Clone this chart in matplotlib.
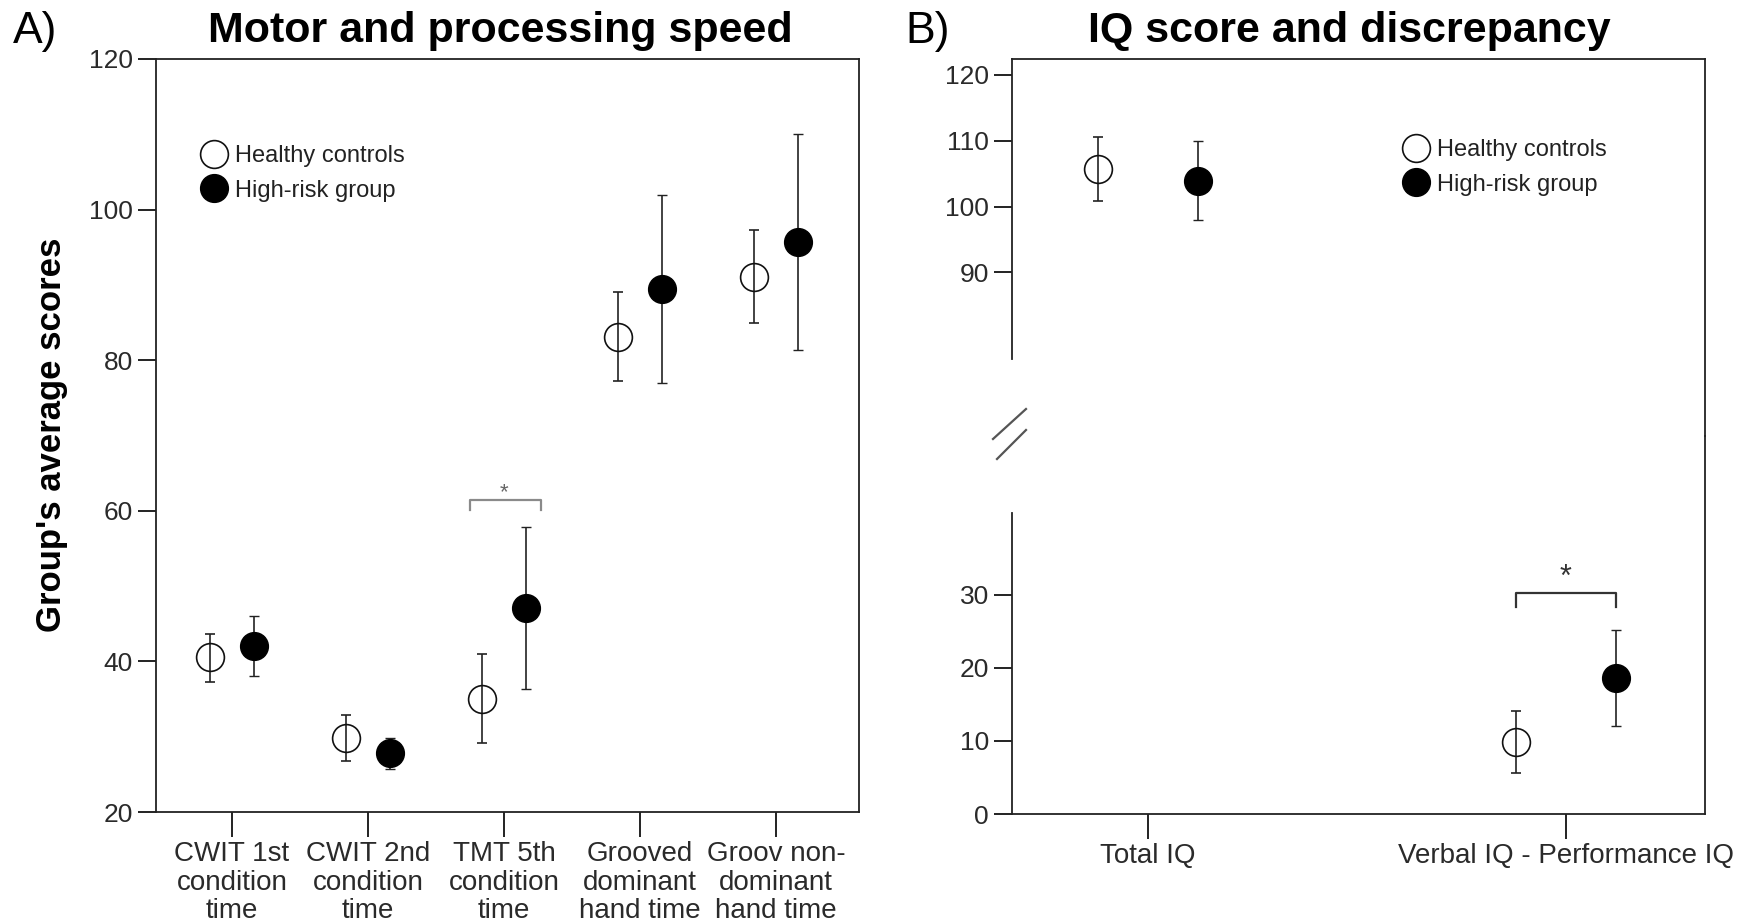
import numpy as np
import matplotlib
matplotlib.use("Agg")
import matplotlib.pyplot as plt
from matplotlib.lines import Line2D

plt.rcParams['font.family'] = ['Liberation Sans', 'DejaVu Sans']

# ---- data: panel A (motor and processing speed) ----
speed_labels = ['CWIT 1st\ncondition\ntime', 'CWIT 2nd\ncondition\ntime',
                'TMT 5th\ncondition\ntime', 'Grooved\ndominant\nhand time',
                'Groov non-\ndominant\nhand time']
speed_hc = [40.6, 29.8, 35.0, 83.1, 91.1]
speed_hc_lo = [37.2, 26.8, 29.2, 77.3, 84.9]
speed_hc_hi = [43.7, 32.9, 41.0, 89.0, 97.3]
speed_hr = [42.0, 27.8, 47.1, 89.5, 95.7]
speed_hr_lo = [38.0, 25.7, 36.3, 77.0, 81.4]
speed_hr_hi = [46.0, 29.8, 57.8, 102.0, 110.1]

# ---- data: panel B (IQ score and discrepancy) ----
iq_labels = ['Total IQ', 'Verbal IQ - Performance IQ']
iq_hc = [105.7, 9.9]
iq_hc_lo = [100.8, 5.6]
iq_hc_hi = [110.6, 14.1]
iq_hr = [103.9, 18.6]
iq_hr_lo = [98.0, 12.1]
iq_hr_hi = [110.0, 25.2]

W, H = 1747, 924
fig = plt.figure(figsize=(W / 100, H / 100), dpi=100)


def box(l, t, r, b):
    return [l / W, 1 - b / H, (r - l) / W, (b - t) / H]


def err(v, lo, hi):
    v, lo, hi = map(np.asarray, (v, lo, hi))
    return [v - lo, hi - v]


OFF = 0.16
tick_kw = dict(labelsize=19, labelcolor='#2a2a2a', width=1.4, length=13,
               color='#222222')
hc_style = dict(fmt='o', ms=20, mfc='none', mec='#111111', mew=1.2,
                ecolor='#222222', elinewidth=1.2, capsize=3.5, capthick=1.2)
hr_style = dict(fmt='o', ms=20, mfc='black', mec='black', mew=1.0,
                ecolor='#222222', elinewidth=1.2, capsize=3.5, capthick=1.2)

# ================= Panel A =================
axA = fig.add_axes(box(156, 59, 859, 812))
xa = np.arange(len(speed_labels))
axA.errorbar(xa - OFF, speed_hc, yerr=err(speed_hc, speed_hc_lo, speed_hc_hi), **hc_style)
axA.errorbar(xa + OFF, speed_hr, yerr=err(speed_hr, speed_hr_lo, speed_hr_hi), **hr_style)
axA.set_xlim(-0.559, 4.61)
axA.set_ylim(20, 120)
axA.set_yticks([20, 40, 60, 80, 100, 120])
axA.set_xticks(xa)
axA.set_xticklabels(speed_labels, fontsize=20, linespacing=1.12)
axA.tick_params(axis='both', **tick_kw)
axA.tick_params(axis='x', length=18, labelsize=20, pad=3)
for s in axA.spines.values():
    s.set_linewidth(1.3)
    s.set_color('#222222')

# significance bracket on TMT
sigA_x = [2 - 0.25, 2 - 0.25, 2 + 0.27, 2 + 0.27]
sigA_y = [60.05, 61.5, 61.5, 60.05]
axA.plot(sigA_x, sigA_y, color='#8a8a8a', lw=1.6)
axA.text(2.0, 62.4, '*', ha='center', va='center', fontsize=16, color='#666666')

handles = [Line2D([], [], ls='none', marker='o', ms=20, mfc='none', mec='#111111', mew=1.2),
           Line2D([], [], ls='none', marker='o', ms=20, mfc='black', mec='black')]
names = ['Healthy controls', 'High-risk group']
leg_kw = dict(loc='upper left', frameon=False, fontsize=17, handlelength=1.2,
              handletextpad=0.3, labelspacing=0.53, borderpad=0,
              borderaxespad=0, labelcolor='#222222')
fig.legend(handles, names, bbox_to_anchor=(200 / W, 1 - 145 / H), **leg_kw)

fig.text(52 / W, 1 - 435 / H, "Group's average scores", rotation=90,
         ha='center', va='center', fontsize=25, fontweight='bold')
fig.text(500 / W, 1 - 31 / H, 'Motor and processing speed', ha='center',
         va='center', fontsize=31, fontweight='bold')
fig.text(13 / W, 1 - 31 / H, 'A)', ha='left', va='center', fontsize=32)

# ================= Panel B (broken axis) =================
bl, br = 1012, 1705
axT = fig.add_axes(box(bl, 59, br, 436))
axB = fig.add_axes(box(bl, 436, br, 814), sharex=axT)
xb = np.arange(len(iq_labels))
for ax in (axT, axB):
    ax.errorbar(xb - 0.12, iq_hc, yerr=err(iq_hc, iq_hc_lo, iq_hc_hi), **hc_style)
    ax.errorbar(xb + 0.12, iq_hr, yerr=err(iq_hr, iq_hr_lo, iq_hr_hi), **hr_style)
    ax.tick_params(axis='both', **tick_kw)
    for s in ax.spines.values():
        s.set_linewidth(1.3)
        s.set_color('#222222')
axT.set_xlim(-0.325, 1.333)
axT.set_ylim(65.15, 122.42)
axB.set_ylim(0, 51.78)
axT.set_yticks([90, 100, 110, 120])
axB.set_yticks([0, 10, 20, 30])
axT.spines['bottom'].set_visible(False)
axB.spines['top'].set_visible(False)
axT.spines['left'].set_bounds(76.8, 122.42)
axB.spines['left'].set_bounds(0, 41.2)
axT.tick_params(axis='x', bottom=False, labelbottom=False)
axB.set_xticks(xb)
axB.set_xticklabels(iq_labels, fontsize=20)
axB.tick_params(axis='x', length=18, labelsize=20, pad=3)
axT.patch.set_alpha(0)
axB.patch.set_alpha(0)

sigB_x = [1 - 0.12, 1 - 0.12, 1 + 0.12, 1 + 0.12]
sigB_y = [28.4, 30.3, 30.3, 28.4]
axB.plot(sigB_x, sigB_y, color='#333333', lw=1.6)
axB.text(1, 32.3, '*', ha='center', va='center', fontsize=22, color='#333333')

# break marks on the left axis
for (x0, y0, x1, y1) in [(993, 439, 1026, 409), (997, 459, 1026, 430)]:
    fig.add_artist(Line2D([x0 / W, x1 / W], [1 - y0 / H, 1 - y1 / H],
                          transform=fig.transFigure, color='#555555', lw=1.6))

fig.legend(handles, names, bbox_to_anchor=(1402 / W, 1 - 139 / H), **leg_kw)

fig.text(1349 / W, 1 - 31 / H, 'IQ score and discrepancy', ha='center',
         va='center', fontsize=31, fontweight='bold')
fig.text(905 / W, 1 - 31 / H, 'B)', ha='left', va='center', fontsize=32)

fig.savefig('out.png', dpi=100)
